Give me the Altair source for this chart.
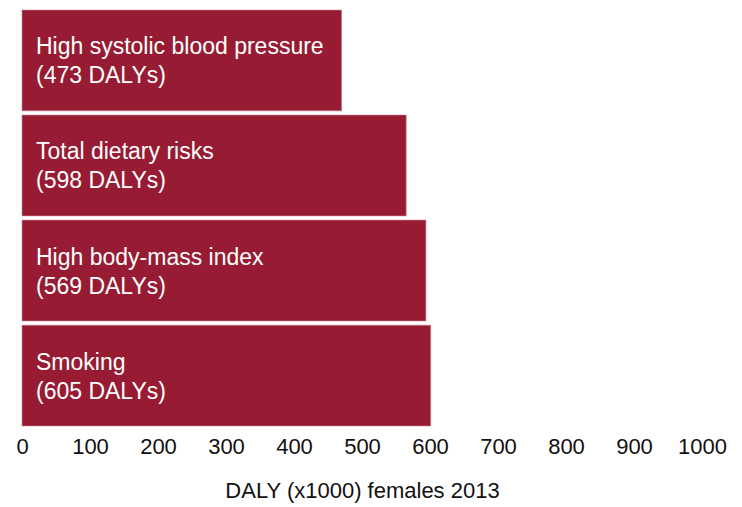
import altair as alt
import pandas as pd

risks = ["High systolic blood pressure", "Total dietary risks", "High body-mass index", "Smoking"]
label_values = ["(473 DALYs)", "(598 DALYs)", "(569 DALYs)", "(605 DALYs)"]
bar_values = [470, 565, 594, 601]
ticks = [0, 100, 200, 300, 400, 500, 600, 700, 800, 900, 1000]

df = pd.DataFrame({
    "risk": risks,
    "value": bar_values,
    "label": [[r, l] for r, l in zip(risks, label_values)],
})

FONT = "Liberation Sans"
y_enc = alt.Y("risk:N", sort=risks, axis=None,
              scale=alt.Scale(paddingInner=0.04, paddingOuter=0))

bars = alt.Chart(df).mark_bar(color="#971c33", stroke="#c7808d", strokeWidth=0.6).encode(
    x=alt.X("value:Q",
            scale=alt.Scale(domain=[0, 1000], nice=False),
            axis=alt.Axis(values=ticks, format="d", title="DALY (x1000) females 2013",
                          grid=False, domain=False, ticks=False, tickSize=0,
                          labelFont=FONT, labelFontSize=22, labelColor="#111111",
                          labelPadding=10, labelFlush=False,
                          titleFont=FONT, titleFontSize=22, titleFontWeight="normal",
                          titleColor="#111111", titlePadding=23)),
    y=y_enc,
)

text = alt.Chart(df).mark_text(
    align="left", baseline="middle", dx=14, dy=-13, color="white",
    font=FONT, fontSize=23, lineHeight=29,
).encode(
    x=alt.datum(0),
    y=y_enc,
    text="label",
)

chart = (bars + text).properties(
    width=680, height=416,
    background="white",
    padding={"left": 14, "top": 2, "right": 30, "bottom": 80},
    autosize=alt.AutoSizeParams(type="none"),
).configure_view(stroke=None, strokeWidth=0)

chart.save("out.html", embed_options={"renderer": "svg", "actions": False})
